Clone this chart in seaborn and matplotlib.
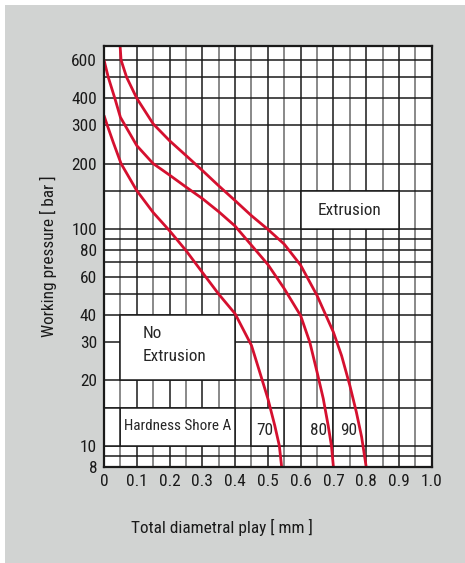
import numpy as np
import pandas as pd
import matplotlib
matplotlib.use("Agg")
import matplotlib.pyplot as plt
from matplotlib import font_manager
from matplotlib.patches import Rectangle
import seaborn as sns

# curves (x = diametral play mm, y = pressure bar)
x70 = [0.0, 0.01, 0.028, 0.052, 0.10, 0.15, 0.20, 0.25, 0.30, 0.35, 0.40, 0.45, 0.475, 0.50, 0.521, 0.535, 0.542]
y70 = [333, 300, 251, 200, 150, 119, 98, 79.5, 63, 50, 40.6, 29, 21.9, 16.5, 12.4, 10, 8]
x80 = [0.0, 0.013, 0.033, 0.05, 0.10, 0.15, 0.20, 0.25, 0.30, 0.35, 0.40, 0.45, 0.50, 0.55, 0.60, 0.628, 0.65, 0.669, 0.684, 0.694, 0.70]
y80 = [600, 500, 400, 327, 242, 200, 177, 156, 138, 120, 103, 84, 68.5, 53, 39.8, 30, 21.9, 16.5, 12.4, 10, 8]
x90 = [0.049, 0.052, 0.069, 0.10, 0.15, 0.20, 0.25, 0.30, 0.35, 0.40, 0.45, 0.50, 0.55, 0.60, 0.65, 0.70, 0.725, 0.75, 0.77, 0.786, 0.80]
y90 = [700, 600, 500, 400, 305, 255, 218, 186, 158, 135, 115, 99.5, 85, 68, 49.3, 33.4, 26, 19, 14.3, 11, 8]

hardness = ["70", "80", "90"]
label_x = [0.49, 0.654, 0.746]

xticks = [0, 0.1, 0.2, 0.3, 0.4, 0.5, 0.6, 0.7, 0.8, 0.9, 1.0]
xtick_labels = ["0", "0.1", "0.2", "0.3", "0.4", "0.5", "0.6", "0.7", "0.8", "0.9", "1.0"]
yticks = [8, 10, 20, 30, 40, 60, 80, 100, 200, 300, 400, 600]
hlines = [9, 10, 15, 20, 30, 40, 50, 60, 70, 80, 90, 100, 150, 200, 300, 400, 500, 600]

df = pd.DataFrame({
    "play": x70 + x80 + x90,
    "pressure": y70 + y80 + y90,
    "shore": ["70"] * len(x70) + ["80"] * len(x80) + ["90"] * len(x90),
})

sns.set_style("white")

# the original uses a condensed face; take one if the machine has it
fonts = font_manager.fontManager.ttflist
names = {f.name for f in fonts}
fs = 10.6
family = ["DejaVu Sans"]
for cand in ["Liberation Sans Narrow", "Roboto Condensed", "Open Sans Condensed", "DejaVu Sans Condensed"]:
    if cand in names:
        family = [cand, "DejaVu Sans"]
        fs = 12.4
        break
else:
    if any(f.name == "DejaVu Sans" and f.stretch == "condensed" for f in fonts):
        plt.rcParams["font.stretch"] = "condensed"
        fs = 11.8
plt.rcParams["font.family"] = family

fig = plt.figure(figsize=(4.65, 5.63), dpi=100)
fig.patch.set_facecolor("white")
# grey panel behind the chart
fig.patches.append(Rectangle((5 / 465, -0.1), 1.2, 1.1 - 5 / 563, transform=fig.transFigure,
                             facecolor="#d1d3d2", edgecolor="none", zorder=-10))
ax = fig.add_axes([0.2237, 0.171, 0.7047, 0.748])
ax.set_facecolor("white")

ax.set_yscale("log")
ax.set_xlim(0, 1.0)
ax.set_ylim(8, 700)

# grid
for v in np.arange(0.05, 1.0, 0.05):
    major = abs(v * 10 - round(v * 10)) < 1e-6
    ax.axvline(v, color="#1a1a1a" if major else "#6a6a6a", lw=1.1, zorder=1)
for h in hlines:
    ax.axhline(h, color="#1a1a1a", lw=1.1, zorder=1)

# white label boxes
boxes = [(0.6, 100, 0.3, 50), (0.05, 20, 0.35, 20), (0.05, 10, 0.35, 5),
         (0.45, 10, 0.10, 5), (0.6, 10, 0.1, 5), (0.7, 10, 0.1, 5), (0.0, 10, 0.05, 5)]
for bx, by, bw, bh in boxes:
    ax.add_patch(Rectangle((bx, by), bw, bh, facecolor="white", edgecolor="#1a1a1a",
                           lw=1.1, zorder=2))

sns.lineplot(data=df, x="play", y="pressure", hue="shore", units="shore", estimator=None,
             sort=False, palette=["#d5102f"] * 3, lw=2.0, legend=False, ax=ax, zorder=3)

ax.text(0.75, 122, "Extrusion", ha="center", va="center", fontsize=fs, zorder=4)
ax.text(0.118, 33, "No", ha="left", va="center", fontsize=fs, zorder=4)
ax.text(0.118, 25.7, "Extrusion", ha="left", va="center", fontsize=fs, zorder=4)
ax.text(0.225, 12.3, "Hardness Shore A", ha="center", va="center", fontsize=fs * 0.88, zorder=4)
for lab, lx in zip(hardness, label_x):
    ax.text(lx, 11.8, lab, ha="center", va="center", fontsize=fs, zorder=4)

ax.set_xticks(xticks)
ax.set_xticklabels(xtick_labels)
ax.set_yticks(yticks)
ax.set_yticklabels([str(t) for t in yticks])
ax.minorticks_off()
ax.tick_params(length=0, labelsize=fs, colors="#1a1a1a", pad=5)

for s in ax.spines.values():
    s.set_color("#1a1a1a")
    s.set_linewidth(1.6)
    s.set_zorder(5)

ax.set_xlabel("Total diametral play [ mm ]", fontsize=fs, color="#1a1a1a")
ax.xaxis.set_label_coords(0.36, -0.125)
ax.set_ylabel("Working pressure [ bar ]", fontsize=fs, color="#1a1a1a")
ax.yaxis.set_label_coords(-0.145, 0.5)

fig.savefig("out.png", dpi=100, facecolor=fig.get_facecolor())
